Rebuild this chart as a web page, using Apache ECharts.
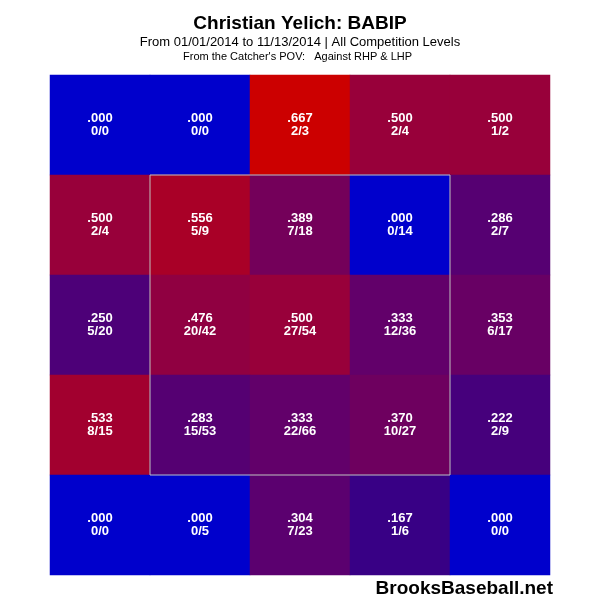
<!DOCTYPE html>
<html>
<head>
<meta charset="utf-8">
<script src="https://cdn.jsdelivr.net/npm/echarts@6/dist/echarts.min.js"></script>
<style>
  html, body { margin: 0; padding: 0; background: #fff; }
  #babip-zone { width: 600px; height: 600px; }
</style>
</head>
<body>
<div id="babip-zone"></div>
<script>
// zone columns (catcher's POV, left -> right) and rows (top -> bottom)
const zoneCols = ['c0', 'c1', 'c2', 'c3', 'c4']
const zoneRows = ['r0', 'r1', 'r2', 'r3', 'r4']

// BABIP per zone, read row by row
const babipRows = [
  [0.000, 0.000, 0.667, 0.500, 0.500],
  [0.500, 0.556, 0.389, 0.000, 0.286],
  [0.250, 0.476, 0.500, 0.333, 0.353],
  [0.533, 0.283, 0.333, 0.370, 0.222],
  [0.000, 0.000, 0.304, 0.167, 0.000]
]
// hits on balls in play
const hitRows = [
  [0, 0, 2, 2, 1],
  [2, 5, 7, 0, 2],
  [5, 20, 27, 12, 6],
  [8, 15, 22, 10, 2],
  [0, 0, 7, 1, 0]
]
// balls in play
const bipRows = [
  [0, 0, 3, 4, 2],
  [4, 9, 18, 14, 7],
  [20, 42, 54, 36, 17],
  [15, 53, 66, 27, 9],
  [0, 5, 23, 6, 0]
]

// strike zone outline, in zone units (corners of the inner 3x3)
const zoneBoxX = [1, 4, 4, 1, 1]
const zoneBoxY = [1, 1, 4, 4, 1]

const titleText = 'Christian Yelich: BABIP'
const subText = 'From 01/01/2014 to 11/13/2014 | All Competition Levels'
const povText = "From the Catcher's POV:   Against RHP & LHP"
const brandText = 'BrooksBaseball.net'

const heatData = []
babipRows.forEach((row, r) => {
  row.forEach((v, c) => {
    heatData.push([c, r, v])
  })
})

const boxData = zoneBoxX.map((x, i) => [x, zoneBoxY[i]])

function fmtAvg(v) {
  return v.toFixed(3).replace(/^0/, '')
}

const chart = echarts.init(document.getElementById('babip-zone'))
const font = "'Liberation Sans', Arial, sans-serif"

chart.setOption({
  animation: false,
  backgroundColor: '#ffffff',
  title: [
    {
      text: titleText,
      left: 'center',
      top: 9,
      textStyle: { fontFamily: font, fontSize: 19, fontWeight: 'bold', color: '#000' }
    },
    {
      text: subText,
      left: 'center',
      top: 31,
      textStyle: { fontFamily: font, fontSize: 13, fontWeight: 'normal', color: '#000' }
    },
    {
      text: povText,
      left: 178,
      top: 46,
      textStyle: { fontFamily: font, fontSize: 11, fontWeight: 'normal', color: '#000' }
    },
    {
      text: brandText,
      right: 47,
      top: 579,
      padding: 0,
      textStyle: { fontFamily: font, fontSize: 19, fontWeight: 'bold', color: '#000' }
    }
  ],
  grid: { left: 50, top: 75, width: 500, height: 500 },
  xAxis: [
    { type: 'category', data: zoneCols, show: false },
    { type: 'value', min: 0, max: 5, show: false }
  ],
  yAxis: [
    { type: 'category', data: zoneRows, inverse: true, show: false },
    { type: 'value', min: 0, max: 5, inverse: true, show: false }
  ],
  visualMap: {
    show: false,
    type: 'continuous',
    seriesIndex: 0,
    dimension: 2,
    min: 0,
    max: 0.667,
    inRange: {
      color: ['#0000cc', '#380085', '#62006a', '#98003a', '#cc0000']
    }
  },
  series: [
    {
      type: 'heatmap',
      data: heatData,
      label: {
        show: true,
        fontFamily: font,
        fontSize: 13,
        fontWeight: 'bold',
        lineHeight: 13,
        color: '#ffffff',
        formatter: p => {
          const c = p.data[0]
          const r = p.data[1]
          return fmtAvg(babipRows[r][c]) + '\n' + hitRows[r][c] + '/' + bipRows[r][c]
        }
      },
      emphasis: { disabled: true }
    },
    {
      type: 'line',
      xAxisIndex: 1,
      yAxisIndex: 1,
      data: boxData,
      symbol: 'none',
      silent: true,
      z: 5,
      lineStyle: { color: '#c0c0c0', width: 1 }
    }
  ]
})
</script>
</body>
</html>
